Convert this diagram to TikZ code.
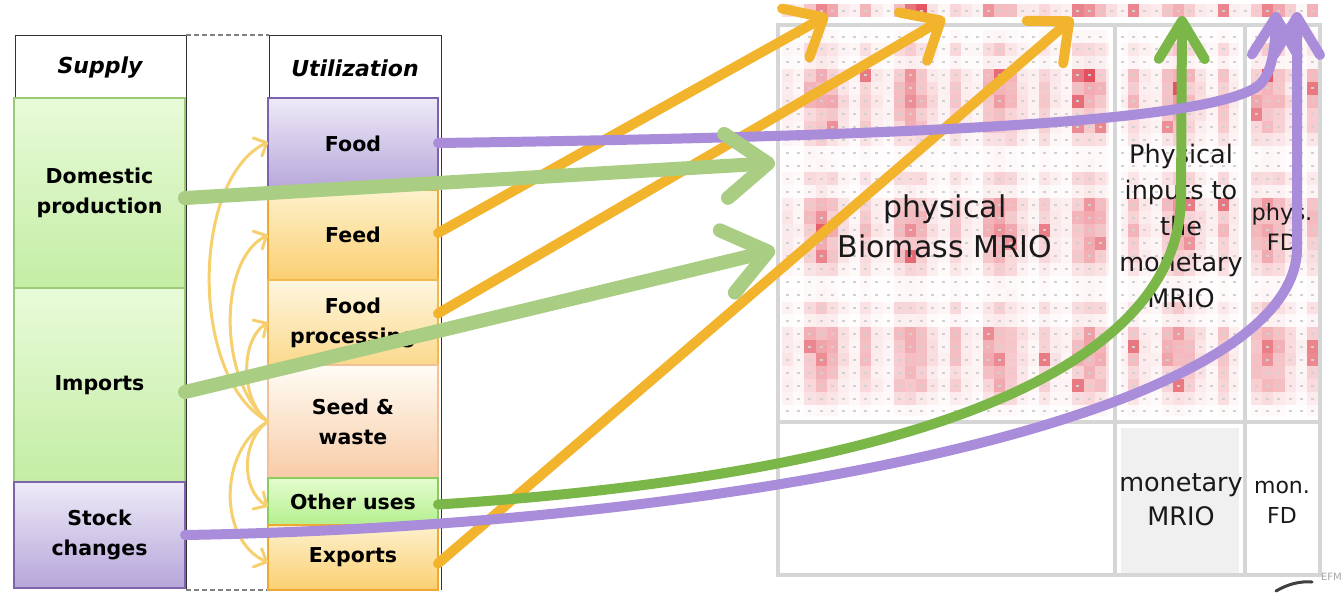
\documentclass[tikz,border=0pt]{standalone}
\usepackage{fontspec}
\setmainfont{DejaVu Sans}
\usetikzlibrary{arrows.meta}
\definecolor{orng}{HTML}{F2B42C}
\definecolor{lgrn}{HTML}{A9CD82}
\definecolor{dgrn}{HTML}{7AB648}
\definecolor{purp}{HTML}{A98DDB}
\definecolor{thinc}{HTML}{F6D06E}
\definecolor{cred}{HTML}{E0424F}
\definecolor{frm}{HTML}{D6D6D6}
\definecolor{grtop}{HTML}{E8FBD9}
\definecolor{grbot}{HTML}{C4EDA4}
\definecolor{grbrd}{HTML}{9BCB78}
\definecolor{putop}{HTML}{EEEAF7}
\definecolor{pubot}{HTML}{B6A6DA}
\definecolor{pubrd}{HTML}{7D62AE}
\definecolor{fdtop}{HTML}{FDF1CC}
\definecolor{fdbot}{HTML}{FBCF72}
\definecolor{fdbrd}{HTML}{F0A830}
\definecolor{prtop}{HTML}{FEF6E0}
\definecolor{prbot}{HTML}{FBD98C}
\definecolor{prbrd}{HTML}{F2B850}
\definecolor{sdtop}{HTML}{FFFCF5}
\definecolor{sdbot}{HTML}{F8CBA6}
\definecolor{sdbrd}{HTML}{F2C09A}
\definecolor{ottop}{HTML}{E4FCCF}
\definecolor{otbot}{HTML}{B4EF8E}
\definecolor{otbrd}{HTML}{8CCB5E}
\begin{document}
\begin{tikzpicture}[x=1pt,y=-1pt,
  lbl/.style={font=\fontsize{20.5}{30}\selectfont\bfseries, align=center, text=black},
  hdr/.style={font=\fontsize{22}{26}\selectfont\bfseries\itshape, text=black},
  cellbox/.style={anchor=north west, inner sep=0pt, outer sep=0pt, line width=1.2pt, lbl},
  greenbox/.style={cellbox, top color=grtop, bottom color=grbot, draw=grbrd},
  purplebox/.style={cellbox, top color=putop, bottom color=pubot, draw=pubrd},
  tline/.style={black!80, line width=1pt},
  dline/.style={gray, line width=1.2pt, dash pattern=on 5pt off 3pt},
  mtext/.style={align=center, text=black!90},
  thinarrow/.style={thinc, line width=3pt, line cap=round, -{Straight Barb[length=10pt,width=20pt,round]}},
  orarrow/.style={orng, line width=10pt, line cap=round, -{Straight Barb[length=32pt,width=56pt,round]}},
  lgarrow/.style={lgrn, line width=14pt, line cap=round, -{Straight Barb[length=42pt,width=64pt,round]}},
  puarrow/.style={purp, line width=10pt, line cap=round, -{Straight Barb[length=38pt,width=46pt,round]}},
  dgarrow/.style={dgrn, line width=10pt, line cap=round, -{Straight Barb[length=38pt,width=46pt,round]}}
]
\useasboundingbox (0,0) rectangle (1343,592);
\fill[white] (0,0) rectangle (1343,592);

% ---------- matrix background ----------
\pgfmathsetseed{7}
\foreach \c in {0,...,47}{
  \pgfmathsetmacro{\wc}{{0.25,0.15,0.75,1,0.75,0.35,0.15,0.65}[int(mod(\c,8))]}
  \pgfmathsetmacro{\vh}{min(90,65*\wc*(0.4+0.8*rnd)+(\wc>0.6)*(rnd>0.8)*35)}
  \fill[cred!\vh!white] ({782+\c*11.17},4) rectangle ++(11.17,13);
  \fill[black!18] ({782+\c*11.17+4},9.5) rectangle ++(3,2);
  \foreach \r in {0,...,29}{
    \pgfmathsetmacro{\wr}{{0.1,0.5,0.2,0.9,0.9,1,0.75,0.75,0.45,0.1}[int(mod(\r,10))]}
    \pgfmathsetmacro{\base}{58*\wc*\wr*(0.6+0.5*rnd)}
    \pgfmathsetmacro{\v}{min(92,(\wc*\wr>0.5)*(rnd>0.9)*35+\base)}
    \fill[cred!\v!white] ({782+\c*11.17},{30+\r*12.93}) rectangle ++(11.17,12.93);
    \fill[black!18] ({782+\c*11.17+4},{30+\r*12.93+5.5}) rectangle ++(3,2);
  }
}
\fill[white] (778,423) rectangle (1320,575);
\fill[gray!12] (1115,423) rectangle (1245,575);
\draw[white, line width=12pt] (1115,25) -- (1115,575) (1245,25) -- (1245,575) (778,422) -- (1320,422);
\draw[frm, line width=4.5pt] (1115,25) -- (1115,575) (1245,25) -- (1245,575) (778,422) -- (1320,422);
\draw[white, line width=6pt] (772,25) -- (772,575);
\draw[frm, line width=4.5pt] (778,25) rectangle (1320,575);

\node[mtext, font=\fontsize{30}{40}\selectfont] (bio) at (945,226) {physical\\Biomass MRIO};
\node[mtext, font=\fontsize{25.5}{36}\selectfont] (pin) at (1181,226) {Physical\\inputs to\\the\\monetary\\MRIO};
\node[mtext, font=\fontsize{22.5}{30}\selectfont] (pfd) at (1282,227) {phys.\\FD};
\node[mtext, font=\fontsize{25.5}{34}\selectfont] (mon) at (1181,500) {monetary\\MRIO};
\node[mtext, font=\fontsize{22}{30}\selectfont] (mfd) at (1282,502) {mon.\\FD};
\node[anchor=east, text=gray!70, font=\fontsize{10}{10}\selectfont, inner sep=0pt] (efm) at (1342,577) {EFM};
\draw[black!75, line width=3pt, line cap=round] (1276,591) .. controls (1288,584) and (1300,581) .. (1312,582);

% ---------- table frame ----------
\draw[tline] (15,35) -- (186,35);
\draw[tline] (269,35) -- (441,35);
\draw[tline] (15,35) -- (15,588);
\draw[tline] (186,35) -- (186,590);
\draw[tline] (269,35) -- (269,590);
\draw[tline] (441,35) -- (441,590);
\draw[dline] (186,35) -- (269,35);
\draw[dline] (186,590) -- (269,590);
\node[hdr] (hsup) at (100,68) {Supply};
\node[hdr] (hutil) at (355,68) {Utilization};

% ---------- boxes ----------
\node[greenbox, minimum width=171pt, minimum height=190pt] (dom) at (14,98) {Domestic\\production};
\node[greenbox, minimum width=171pt, minimum height=194pt] (imp) at (14,288) {Imports};
\node[purplebox, minimum width=171pt, minimum height=106pt] (stk) at (14,482) {Stock\\changes};
\node[purplebox, minimum width=170pt, minimum height=92pt] (food) at (268,98) {Food};
\node[cellbox, top color=fdtop, bottom color=fdbot, draw=fdbrd, minimum width=170pt, minimum height=90pt] (feed) at (268,190) {Feed};
\node[cellbox, top color=prtop, bottom color=prbot, draw=prbrd, minimum width=170pt, minimum height=85pt] (proc) at (268,280) {Food\\processing};
\node[cellbox, top color=sdtop, bottom color=sdbot, draw=sdbrd, minimum width=170pt, minimum height=113pt] (seed) at (268,365) {Seed \&\\waste};
\node[cellbox, top color=ottop, bottom color=otbot, draw=otbrd, minimum width=170pt, minimum height=47pt] (oth) at (268,478) {Other uses};
\node[cellbox, top color=fdtop, bottom color=fdbot, draw=fdbrd, minimum width=170pt, minimum height=65pt] (exp) at (268,525) {Exports};

% ---------- thin internal arrows ----------
\draw[thinarrow] (seed.west) .. controls (190,380) and (190,180) .. ([yshift=2pt]food.west);
\draw[thinarrow] (seed.west) .. controls (218,380) and (218,260) .. ([yshift=0pt]feed.west);
\draw[thinarrow] (seed.west) .. controls (240,400) and (240,340) .. ([yshift=0pt]proc.west);
\draw[thinarrow] (seed.west) .. controls (241,440) and (241,490) .. ([yshift=-5pt]oth.west);
\draw[thinarrow] (seed.west) .. controls (218,450) and (218,540) .. ([yshift=-5pt]exp.west);

% ---------- big arrows ----------
\coordinate (o1) at (828,15);
\coordinate (o2) at (945,18);
\coordinate (o3) at (1073,18);
\coordinate (g1) at (775,163);
\coordinate (g2) at (775,250);
\coordinate (p1) at (1276,12);
\coordinate (p2) at (1297,12);
\coordinate (q1) at (1182,16);
\draw[orarrow] ([yshift=2pt]feed.east) -- (o1);
\draw[orarrow] ([yshift=9pt]proc.east) -- (o2);
\draw[orarrow] ([yshift=-6pt]exp.east) -- (o3);
\draw[dgarrow] ([yshift=-3pt]oth.east) .. controls (820,480) and (1175,400) .. (1181,200) -- (q1);
\draw[puarrow] (stk.east) .. controls (720,526) and (1292,420) .. (1297,250) -- (p2);
\draw[puarrow] ([yshift=1pt]food.east) .. controls (950,136) and (1200,120) .. (1255,88) .. controls (1272,78) and (1275,50) .. (p1);
\draw[lgarrow] ([yshift=-5pt]dom.east) -- (g1);
\draw[lgarrow] ([yshift=-7pt]imp.east) -- (g2);
\end{tikzpicture}
\end{document}
